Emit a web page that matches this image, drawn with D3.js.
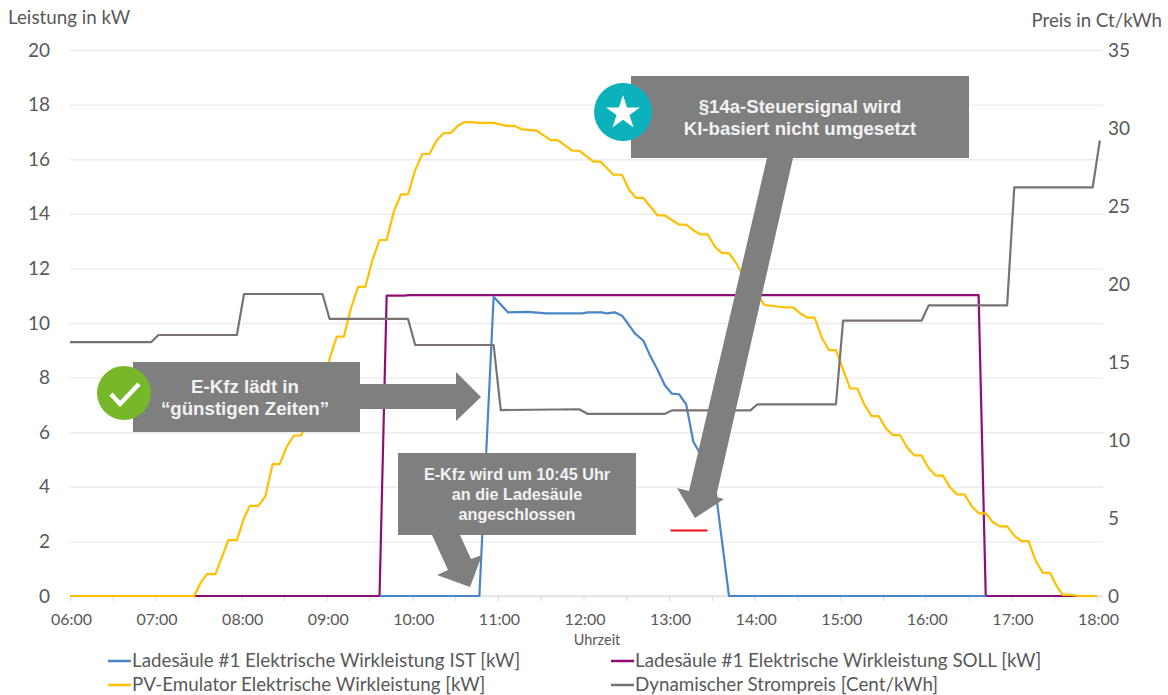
<!DOCTYPE html>
<html>
<head>
<meta charset="utf-8">
<script src="https://cdnjs.cloudflare.com/ajax/libs/d3/7.8.5/d3.min.js"></script>
<style>
    html, body { margin: 0; padding: 0; background: #fff; }
    svg { display: block; }
    text { font-family: Lato, "Open Sans", sans-serif; fill: #595959; }
    .note { font-family: "Liberation Sans", Arial, sans-serif; font-weight: bold; fill: #f2f2f2; text-anchor: middle; }
</style>
</head>
<body>
<div id="chart"></div>
<script>
// Werte
var power_ticks = [0, 2, 4, 6, 8, 10, 12, 14, 16, 18, 20];
var price_ticks = [0, 5, 10, 15, 20, 25, 30, 35];

var pv_times = ['06:00','07:27','07:32','07:36','07:42','07:51','07:57','08:02','08:06','08:12',
    '08:17','08:22','08:27','08:32','08:37','08:42','08:47','08:52','08:57','09:02',
    '09:07','09:12','09:17','09:22','09:27','09:32','09:37','09:42','09:47','09:52',
    '09:57','10:02','10:07','10:12','10:17','10:22','10:27','10:32','10:37','10:42',
    '10:47','10:57','11:06','11:12','11:17','11:27','11:37','11:42','11:52','11:57',
    '12:07','12:12','12:21','12:27','12:32','12:37','12:42','12:52','12:57','13:07',
    '13:12','13:18','13:22','13:27','13:32','13:37','13:42','13:47','13:52','13:57',
    '14:02','14:07','14:21','14:27','14:32','14:37','14:42','14:47','14:52','14:57',
    '15:02','15:07','15:12','15:17','15:22','15:27','15:32','15:37','15:42','15:47',
    '15:52','15:57','16:02','16:07','16:12','16:17','16:22','16:27','16:32','16:37',
    '16:42','16:47','16:52','16:57','17:02','17:07','17:12','17:17','17:22','17:27',
    '17:32','17:36','17:42','17:47','18:00'];
var pv_values = [0,0,0.52,0.8,0.8,2.05,2.05,2.85,3.3,3.3,
    3.65,4.83,4.83,5.47,5.88,5.88,6.4,7.05,7.05,8.7,
    9.5,9.5,10.55,11.32,11.32,12.3,13.04,13.04,14.08,14.71,
    14.71,15.6,16.19,16.19,16.68,16.96,16.96,17.23,17.36,17.36,
    17.33,17.33,17.22,17.22,17.09,17.05,16.7,16.7,16.31,16.31,
    15.91,15.91,15.43,15.43,14.87,14.58,14.58,13.94,13.94,13.6,
    13.6,13.36,13.25,13.25,12.8,12.56,12.56,12.2,11.75,11.3,
    11.0,10.66,10.57,10.57,10.35,10.2,10.2,9.47,9.01,9.01,
    8.28,7.6,7.6,7.0,6.59,6.59,6.14,5.89,5.89,5.43,
    5.15,5.15,4.68,4.41,4.41,3.98,3.72,3.72,3.3,3.03,
    3.03,2.7,2.55,2.55,2.21,2.01,2.01,1.29,0.85,0.85,
    0.34,0.04,0.04,0,0];

var ist_times = ['09:37','10:47','10:57','11:07','11:21','11:34','11:43','11:59','12:03','12:13','12:16','12:22','12:27','12:31','12:36','12:42','12:47','12:52','12:57','13:02','13:07','13:12','13:17','13:22','13:32','13:42','16:42'];
var ist_values = [0,0,10.96,10.39,10.41,10.35,10.35,10.35,10.39,10.39,10.35,10.39,10.27,9.99,9.62,9.35,8.77,8.28,7.72,7.41,7.39,7.02,5.65,5.2,4.1,0,0];

var soll_times = ['07:27','09:37','09:42','09:54','09:58','16:37','16:42','17:47'];
var soll_values = [0,0,11,11,11.02,11.02,0,0];

var price_times = ['06:00','06:57','07:02','07:57','08:02','08:57','09:02','09:57','10:02','10:57','11:02','11:57','12:03','12:57','13:02','13:57','14:02','14:57','15:02','15:57','16:02','16:57','17:02','17:57','18:02'];
var price_values = [16.28,16.28,16.73,16.73,19.36,19.36,17.76,17.76,16.09,16.09,11.92,11.97,11.67,11.67,11.9,11.9,12.29,12.29,17.65,17.65,18.63,18.63,26.2,26.2,29.2];

var red_times = ['13:01','13:27'];
var red_values = [2.4,2.4];

var legend_labels = [
    'Ladesäule #1 Elektrische Wirkleistung IST [kW]',
    'Ladesäule #1 Elektrische Wirkleistung SOLL [kW]',
    'PV-Emulator Elektrische Wirkleistung [kW]',
    'Dynamischer Strompreis [Cent/kWh]'
];
var legend_colors = ['#4a86c5', '#8e0f74', '#ffc000', '#7a7272'];

var chart_width = 1168;
var chart_height = 695;
var left = 70, right = 1097, top_y = 50, bottom_y = 596;
var time_parse = d3.timeParse('%H:%M');
var time_format = d3.timeFormat('%H:%M');

var svg = d3.select('#chart')
    .append('svg')
    .attr('width', chart_width)
    .attr('height', chart_height);

// Scales
var x_scale = d3.scaleTime()
    .domain([time_parse('06:00'), time_parse('18:00')])
    .range([left, right]);
var y_scale = d3.scaleLinear().domain([0, 20]).range([bottom_y, top_y]);
var y_price = d3.scaleLinear().domain([0, 35]).range([bottom_y, top_y]);

// Grid
var grid = svg.append('g')
    .attr('transform', 'translate(' + left + ',0)')
    .call(d3.axisLeft(y_scale).tickValues(power_ticks).tickSize(-(right - left + 6)).tickFormat(''));
grid.select('.domain').remove();
grid.selectAll('line').attr('stroke', '#ececec').attr('stroke-width', 1.4);

// Axes
var half_hours = d3.timeMinute.range(time_parse('06:00'), d3.timeMinute.offset(time_parse('18:00'), 1), 30);
var x_axis = d3.axisBottom(x_scale)
    .tickValues(half_hours)
    .tickSize(5)
    .tickFormat(function(d) { return d.getMinutes() === 0 ? time_format(d) : ''; });
var gx = svg.append('g')
    .attr('transform', 'translate(0,' + bottom_y + ')')
    .call(x_axis);
gx.select('.domain').attr('stroke', '#d9d9d9').attr('d', 'M' + left + ',0H' + (right + 6));
gx.selectAll('line').attr('stroke', '#d9d9d9');
gx.selectAll('text')
    .attr('y', 18)
    .attr('dx', 1)
    .style('font-size', '16px');

var gy = svg.append('g')
    .attr('transform', 'translate(50,0)')
    .call(d3.axisLeft(y_scale).tickValues(power_ticks).tickSize(0).tickPadding(0));
gy.select('.domain').remove();
gy.selectAll('text').style('font-size', '19px');

var gy2 = svg.append('g')
    .attr('transform', 'translate(1108,0)')
    .call(d3.axisRight(y_price).tickValues(price_ticks).tickSize(0).tickPadding(0));
gy2.select('.domain').remove();
gy2.selectAll('text').style('font-size', '19px');

// Axis titles
svg.append('text').attr('x', 8).attr('y', 24).style('font-size', '18.8px').text('Leistung in kW');
svg.append('text').attr('x', 1162).attr('y', 27).attr('text-anchor', 'end').style('font-size', '18.7px').text('Preis in Ct/kWh');
svg.append('text').attr('x', 597).attr('y', 645).attr('text-anchor', 'middle').style('font-size', '14.5px').text('Uhrzeit');

// Lines
function drawLine(times, values, scale, color, width) {
    var data = times.map(function(t, i) { return { date: time_parse(t), value: values[i] }; });
    var line = d3.line()
        .x(function(d) { return x_scale(d.date); })
        .y(function(d) { return scale(d.value); });
    svg.append('path')
        .datum(data)
        .attr('fill', 'none')
        .attr('stroke', color)
        .attr('stroke-width', width)
        .attr('stroke-linejoin', 'round')
        .attr('d', line);
}
drawLine(soll_times, soll_values, y_scale, legend_colors[1], 2.2);
drawLine(ist_times, ist_values, y_scale, legend_colors[0], 2.2);
drawLine(pv_times, pv_values, y_scale, legend_colors[2], 2.2);
drawLine(price_times, price_values, y_price, legend_colors[3], 2.2);
drawLine(red_times, red_values, y_scale, '#f01010', 2);

// Legend
var legend_x = [108, 611];
var legend_y = [661, 685];
legend_labels.forEach(function(label, i) {
    var lx = legend_x[i % 2], ly = legend_y[Math.floor(i / 2)];
    svg.append('line')
        .attr('x1', lx).attr('x2', lx + 23)
        .attr('y1', ly).attr('y2', ly)
        .attr('stroke', legend_colors[i]).attr('stroke-width', 2.5);
    svg.append('text')
        .attr('x', lx + 24).attr('y', ly + 6)
        .style('font-size', '18.8px')
        .text(label);
});

// Annotations
var note_fill = '#7f7f7f';
function poly(points) {
    svg.append('polygon').attr('points', points).attr('fill', note_fill);
}
function note(lines, cx, y, step, size) {
    lines.forEach(function(s, i) {
        svg.append('text').attr('class', 'note').attr('x', cx).attr('y', y + i * step)
            .style('font-size', size + 'px').text(s);
    });
}

svg.append('rect').attr('x', 133).attr('y', 362).attr('width', 227).attr('height', 70).attr('fill', note_fill);
poly('360,384 456,384 456,372 481,397 456,421 456,409 360,409');
note(['E-Kfz lädt in', '“günstigen Zeiten”'], 245, 393, 22, 18.7);
svg.append('circle').attr('cx', 124).attr('cy', 393).attr('r', 27).attr('fill', '#76b82a');
svg.append('path').attr('d', 'M111,394 L120,404 L139,384').attr('fill', 'none').attr('stroke', '#fff').attr('stroke-width', 4.5);

svg.append('rect').attr('x', 398).attr('y', 453).attr('width', 238).attr('height', 82).attr('fill', note_fill);
poly('432,535 460,535 471,559 482,555 470,587 437,575 448,570');
note(['E-Kfz wird um 10:45 Uhr', 'an die Ladesäule', 'angeschlossen'], 517, 480, 20, 16.2);

svg.append('rect').attr('x', 631).attr('y', 76).attr('width', 338).attr('height', 82).attr('fill', note_fill);
poly('767,158 793,158 716,497 724,499 695,518 677,488 689,491');
note(['§14a-Steuersignal wird', 'KI-basiert nicht umgesetzt'], 800, 113, 22, 18.6);
svg.append('circle').attr('cx', 623).attr('cy', 112).attr('r', 29).attr('fill', '#0bb2bb');
svg.append('path')
    .attr('transform', 'translate(623,113)')
    .attr('d', d3.symbol().type(d3.symbolStar).size(360))
    .attr('fill', '#fff');
</script>
</body>
</html>
